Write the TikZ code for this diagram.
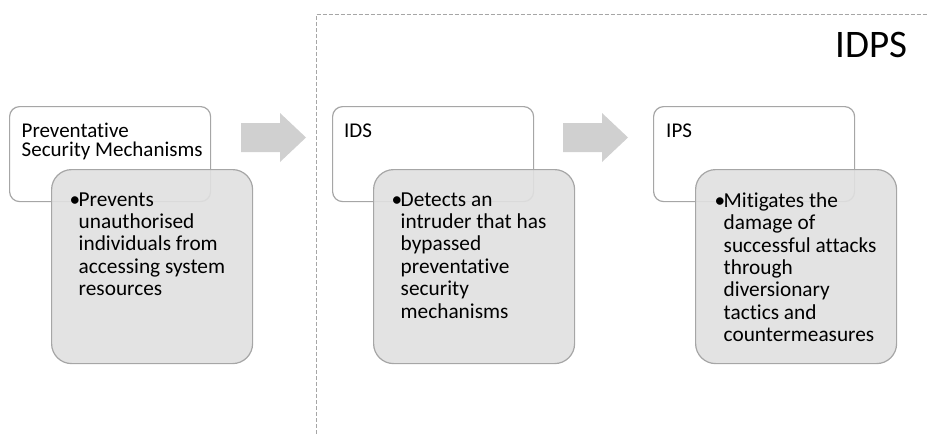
\documentclass[tikz,border=0pt]{standalone}
\usepackage{fontspec}
\setmainfont{Carlito}[Ligatures=NoCommon]
\definecolor{boxline}{HTML}{A6A6A6}
\definecolor{grayfill}{HTML}{E0E0E0}
\definecolor{arrowfill}{HTML}{D0D0D0}
\definecolor{dashcol}{HTML}{A6A6A6}
\newcommand{\bulmark}{\makebox[9pt][l]{•}}
\newcommand{\indmark}{\hspace*{9pt}}
\begin{document}
\begin{tikzpicture}[x=1pt,y=-1pt,
  titlebox/.style={draw=boxline, line width=1.2pt, fill=white, rounded corners=10pt,
    minimum width=201pt, minimum height=95pt, inner sep=0pt, anchor=north west},
  detailbox/.style={draw=boxline, line width=1.2pt, fill=grayfill, fill opacity=0.9,
    rounded corners=20pt, minimum width=201pt, minimum height=194pt, inner sep=0pt, anchor=north west},
  titletext/.style={font=\fontsize{21}{18.3}\selectfont, align=left, inner sep=0pt, anchor=north west},
  bullettext/.style={font=\fontsize{21.3}{22.4}\selectfont, align=left, inner sep=0pt, anchor=north west},
  blockarrow/.style={fill=arrowfill, draw=none},
  frameline/.style={draw=dashcol, line width=1pt, dash pattern=on 4pt off 2pt}
]
\useasboundingbox (0,0) rectangle (928,434);

% dashed IDPS frame
\coordinate (fbl) at (316,434);
\coordinate (ftl) at (316,14.5);
\coordinate (ftr) at (928,14.5);
\draw[frameline] (fbl) -- (ftl) -- (ftr);
\node[font=\fontsize{39}{47}\selectfont, inner sep=0pt, anchor=base east] (idps) at (908,57) {IDPS};

% boxes
\node[titlebox] (t1) at (9,106) {};
\node[titlebox] (t2) at (332,106) {};
\node[titlebox] (t3) at (653,106) {};
\node[detailbox] (d1) at (51,169) {};
\node[detailbox] (d2) at (373,169) {};
\node[detailbox] (d3) at (695,169) {};

% titles
\node[titletext] (t1txt) at (21.5,123.3) {Preventative\\Security Mechanisms};
\node[titletext] (t2txt) at (344,123.3) {IDS};
\node[titletext] (t3txt) at (666,123.3) {IPS};

% bullet texts
\node[bullettext] (d1txt) at (69.5,192.3) {\bulmark Prevents\\\indmark unauthorised\\\indmark individuals from\\\indmark accessing system\\\indmark resources};
\node[bullettext] (d2txt) at (391.5,192.3) {\bulmark Detects an\\\indmark intruder that has\\\indmark bypassed\\\indmark preventative\\\indmark security\\\indmark mechanisms};
\node[bullettext] (d3txt) at (714.5,192.3) {\bulmark Mitigates the\\\indmark damage of\\\indmark successful attacks\\\indmark through\\\indmark diversionary\\\indmark tactics and\\\indmark countermeasures};

% block arrows
\fill[blockarrow] (241,123) -- (280,123) -- (280,113) -- (306,137.5) -- (280,162) -- (280,152) -- (241,152) -- cycle;
\fill[blockarrow] (563,123) -- (602,123) -- (602,113) -- (628,137.5) -- (602,162) -- (602,152) -- (563,152) -- cycle;
\end{tikzpicture}
\end{document}
